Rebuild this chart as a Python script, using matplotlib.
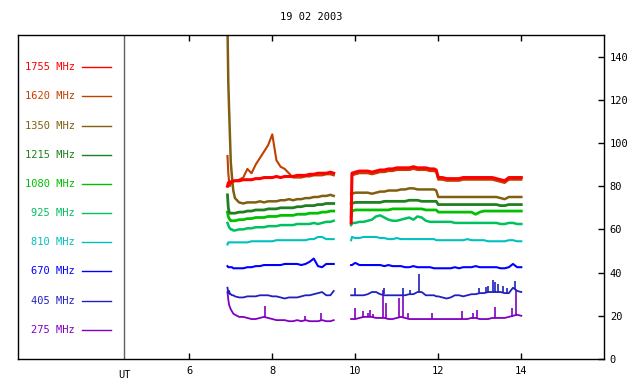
import numpy as np
import matplotlib
matplotlib.use("Agg")
import matplotlib.pyplot as plt

# ---------------- data ----------------
title = "19 02 2003"
freqs = ["1755 MHz", "1620 MHz", "1350 MHz", "1215 MHz", "1080 MHz",
         "925 MHz", "810 MHz", "670 MHz", "405 MHz", "275 MHz"]
colors = ["#ff0000", "#c04000", "#806010", "#208020", "#00c000",
          "#00c060", "#00c0c0", "#0000ff", "#2020c0", "#8000c0"]

xticks = [6, 8, 10, 12, 14]
yticks = [0, 20, 40, 60, 80, 100, 120, 140]

t1 = [6.92, 6.94, 6.96, 6.98, 7.00, 7.03, 7.06, 7.10, 7.20, 7.30, 7.40, 7.50,
      7.60, 7.70, 7.80, 7.90, 8.00, 8.10, 8.20, 8.30, 8.40, 8.50, 8.60, 8.70,
      8.80, 8.90, 9.00, 9.10, 9.20, 9.30, 9.40, 9.48]
t2 = [9.90, 9.92, 10.0, 10.1, 10.2, 10.3, 10.4, 10.5, 10.6, 10.7, 10.8, 10.9,
      11.0, 11.1, 11.2, 11.3, 11.4, 11.5, 11.6, 11.7, 11.8, 11.9, 11.95,
      12.0, 12.1, 12.2, 12.3, 12.4, 12.5, 12.6, 12.7, 12.8, 12.9, 13.0, 13.1,
      13.2, 13.3, 13.4, 13.5, 13.6, 13.7, 13.8, 13.9, 14.0]

v1755_a = [80, 81.5, 82, 81.5, 82, 82, 82.5, 82.5, 82.5, 83, 83, 83, 83.5, 83.5,
           84, 84, 84, 84.5, 84, 84.5, 84.5, 84.5, 85, 85, 85, 85.5, 85.5, 86,
           86, 86, 86.5, 86]
v1755_b = [63, 86, 86.5, 87, 87, 87, 86.5, 87, 87.5, 87.5, 88, 88, 88.5, 88.5,
           88.5, 88.5, 89, 88.5, 88.5, 88.5, 88, 88, 87.5, 84, 84, 83.5, 83.5,
           83.5, 83.5, 84, 84, 84, 84, 84, 84, 84, 84, 83.5, 83, 82.5, 84, 84,
           84, 84]

v1620_a = [94, 86, 82, 80, 81, 82, 82, 82.5, 83, 84, 88, 86, 90, 93, 96, 99,
           104, 92, 89, 88, 86, 84, 84, 84, 84.5, 84.5, 85, 85, 85, 85.5, 85.5,
           85]
v1620_b = [63, 85, 85.5, 86, 86, 86, 85.5, 86, 86.5, 86.5, 87, 87, 87.5, 87.5,
           87.5, 87.5, 88, 87.5, 87.5, 87.5, 87, 87, 86.5, 83, 83, 82.5, 82.5,
           82.5, 82.5, 83, 83, 83, 83, 83, 83, 83, 83, 82.5, 82, 81.5, 83, 83,
           83, 83]

v1350_a = [155, 128, 115, 103, 91, 84, 78, 74.5, 72.5, 72, 72.5, 72.5, 72.5,
           73, 72.5, 73, 73, 73, 73.5, 73.5, 74, 73.5, 74, 74, 74.5, 74.5, 75,
           75, 75.5, 75.5, 76, 75.5]
v1350_b = [76.5, 76.5, 77, 77, 77, 77, 76.5, 77, 77.5, 77.5, 78, 78, 78, 78.5,
           78.5, 79, 79, 78.5, 78.5, 78.5, 78.5, 78.5, 78, 75, 75, 75, 75, 75,
           75, 75, 75, 75, 75, 75, 75, 75, 75, 75, 74.5, 74, 75, 75, 75, 75]

v1215_a = [76, 70, 68, 67.5, 67.5, 67.5, 67.5, 67.5, 68, 68, 68.5, 68.5, 69, 69,
           69, 69.5, 69.5, 69.5, 70, 70, 70, 70, 70.5, 70.5, 71, 71, 71, 71.5,
           71.5, 72, 72, 72]
v1215_b = [72, 72, 72.5, 72.5, 72.5, 72.5, 72.5, 72.5, 72.5, 73, 73, 73, 73, 73,
           73, 73.5, 73.5, 73.5, 73, 73, 73, 73, 73, 71.5, 71.5, 71.5, 71.5,
           71.5, 71.5, 71.5, 71.5, 71.5, 71.5, 71.5, 71.5, 71.5, 71.5, 71.5, 71,
           71, 71.5, 71.5, 71.5, 71.5]

v1080_a = [68, 66, 65, 64.5, 64, 64, 64, 64, 64.5, 64.5, 65, 65, 65.5, 65.5,
           65.5, 66, 66, 66, 66.5, 66.5, 66.5, 66.5, 67, 67, 67, 67.5, 67.5,
           67.5, 68, 68, 68.5, 68.5]
v1080_b = [66, 68.5, 69, 69, 69, 69, 69, 69, 69, 69, 69, 69.5, 69.5, 69.5, 69.5,
           69.5, 69.5, 69.5, 69.5, 69, 69, 69, 69, 68, 68, 68, 68, 68, 68, 68,
           68, 68, 67, 68, 68.5, 68.5, 68.5, 68.5, 68.5, 68.5, 68.5, 68.5, 68.5,
           68.5]

v925_a = [63, 62, 61, 60.5, 60, 60, 59.5, 59.5, 60, 60, 60.5, 60.5, 61, 61, 61,
          61.5, 61.5, 61.5, 62, 62, 62, 62, 62.5, 62.5, 62.5, 62.5, 63, 62.5,
          63, 63.5, 63.5, 64]
v925_b = [62, 63, 63, 63.5, 63.5, 64, 64.5, 66, 66.5, 65.5, 64.5, 64, 64, 64.5,
          65, 65.5, 64.5, 66, 65.5, 64, 63.5, 63.5, 63.5, 63.5, 63.5, 63.5,
          63.5, 63, 63, 63, 63, 63, 63, 63, 63, 63, 63, 63, 62.5, 62.5, 63, 63,
          62.5, 62.5]

v810_a = [53, 54, 54, 54, 54, 54, 54, 54, 54, 54, 54, 54.5, 54.5, 54.5, 54.5,
          54.5, 54.5, 55, 55, 55, 55, 55, 55, 55, 55, 55.5, 55.5, 56.5, 56.5,
          55.5, 55.5, 55.5]
v810_b = [55, 56.5, 56, 56, 56.5, 56.5, 56.5, 56.5, 56, 56, 55.5, 55.5, 56,
          55.5, 55.5, 55.5, 55.5, 55.5, 55.5, 55.5, 55.5, 55.5, 55, 55, 55, 55,
          55, 55, 55, 55, 55.5, 55, 55, 55, 55, 54.5, 54.5, 54.5, 54.5, 54.5,
          55, 55, 54.5, 54.5]

v670_a = [43, 42.5, 42.5, 42.5, 42.5, 42.5, 42, 42, 42, 42, 42.5, 42.5, 43, 43,
          43.5, 43.5, 43.5, 43.5, 43.5, 44, 44, 44, 44, 43.5, 44, 45, 46.5, 43,
          42.5, 44, 44, 44]
v670_b = [43.5, 43.5, 44.5, 43.5, 43.5, 43.5, 43.5, 43.5, 43.5, 43, 43.5, 43,
          43, 43, 42.5, 42.5, 43, 42.5, 42.5, 42.5, 42.5, 42, 42, 42, 42, 42,
          42, 42.5, 42, 42.5, 42.5, 42.5, 43, 42.5, 42.5, 42.5, 42.5, 42.5, 42,
          42, 42.5, 44, 42.5, 42.5]

v405_a = [33, 30.5, 31.5, 30, 30, 29.5, 29.5, 29, 28.5, 28.5, 29, 29, 29, 29.5,
          29.5, 29.5, 29, 29, 28.5, 28, 28.5, 28.5, 28.5, 29, 29.5, 29.5, 30,
          30.5, 31, 29.5, 29.5, 31.5]
v405_b = [29.5, 29.5, 29.5, 29.5, 29.5, 30, 31, 31, 30, 29.5, 29.5, 29.5, 29.5,
          29.5, 29.5, 30, 30, 31, 31, 29.5, 29.5, 29.5, 29, 29, 28.5, 28, 28.5,
          29.5, 29.5, 29, 29.5, 30, 30, 30.5, 30.5, 31, 31, 31, 31, 30.5, 30.5,
          33, 31.5, 31]
spk405_t = [9.99, 10.68, 11.16, 11.31, 11.54, 12.97, 13.15, 13.20, 13.33,
            13.37, 13.45, 13.55, 13.65, 13.85]
spk405_lo = [29.5, 30, 29.5, 30, 31, 30, 30.5, 31, 31, 31, 31, 31, 30.5, 32.5]
spk405_hi = [33, 33, 33, 32, 39.5, 33, 33.5, 34, 36.5, 35.5, 34.5, 34, 33, 36]

v275_a = [31, 27.5, 25, 24, 23, 22, 21, 20.5, 19.5, 19.5, 19, 18.5, 18.5, 19,
          19.5, 19, 18.5, 18, 18, 18, 17.5, 17.5, 18, 17.5, 18, 17.5, 17.5,
          17.5, 18, 17.5, 17.5, 18]
v275_b = [18.5, 18.5, 18.5, 19, 19.5, 19.5, 19.5, 19, 19, 19, 18.5, 18.5, 19,
          19.5, 19, 18.5, 18.5, 18.5, 18.5, 18.5, 18.5, 18.5, 18.5, 18.5, 18.5,
          18.5, 18.5, 18.5, 18.5, 18.5, 18.5, 19, 19, 18.5, 18.5, 18.5, 19, 19,
          19, 19, 19.5, 20, 20.5, 20]
spk275_t = [7.83, 8.80, 9.18, 9.99, 10.19, 10.30, 10.36, 10.43, 10.66, 10.74,
            11.06, 11.16, 11.28, 11.86, 12.56, 12.83, 12.93, 13.37, 13.78, 13.87]
spk275_lo = [19.5, 18, 17.5, 18.5, 19, 19.5, 19.5, 19.5, 19, 19, 19, 19, 19,
             18.5, 18.5, 18.5, 18.5, 19, 19.5, 20]
spk275_hi = [24.5, 20, 21.5, 23.8, 22, 21.5, 22.5, 21, 32, 25.8, 28.2, 29, 21.5,
             21.3, 22, 21.5, 22.5, 24.3, 23.5, 32]

series_a = [v1755_a, v1620_a, v1350_a, v1215_a, v1080_a,
            v925_a, v810_a, v670_a, v405_a, v275_a]
series_b = [v1755_b, v1620_b, v1350_b, v1215_b, v1080_b,
            v925_b, v810_b, v670_b, v405_b, v275_b]
widths = [2.2, 1.5, 1.8, 2.0, 2.0, 1.8, 1.5, 1.5, 1.3, 1.3]

ut_pos = 4.434

# ---------------- figure ----------------
plt.rcParams['font.family'] = ['DejaVu Sans Mono']
plt.rcParams['font.size'] = 7.5

fig = plt.figure(figsize=(6.4, 3.84), dpi=100)
ax = fig.add_axes([18.3 / 640, 1 - 359 / 384, 586 / 640, 324 / 384])
ax.set_xlim(1.88, 16)
ax.set_ylim(0, 150)

# draw lowest frequency first so 1755 MHz ends on top
for i in reversed(range(len(freqs))):
    ax.plot(t1, series_a[i], color=colors[i], lw=widths[i])
    ax.plot(t2, series_b[i], color=colors[i], lw=widths[i])
    if freqs[i] == "275 MHz":
        ax.vlines(spk275_t, spk275_lo, spk275_hi, color=colors[i], lw=1.2)
    if freqs[i] == "405 MHz":
        ax.vlines(spk405_t, spk405_lo, spk405_hi, color=colors[i], lw=1.2)

ax.axvline(ut_pos, color='#606060', lw=1.0)

# key on the left
y0 = 0.9003
dy = 0.09
for i, (lab, c) in enumerate(zip(freqs, colors)):
    y = y0 - i * dy
    ax.text(0.0968, y, lab, color=c, ha='right', va='center',
            transform=ax.transAxes)
    ax.plot([0.1087, 0.1577], [y, y], color=c, lw=1.0,
            transform=ax.transAxes, clip_on=False)

# axes styling
for s in ax.spines.values():
    s.set_linewidth(1.0)
ax.set_xticks(xticks)
ax.set_xticklabels([str(v) for v in xticks])
ax.set_yticks(yticks)
ax.yaxis.tick_right()
ax.tick_params(axis='x', direction='in', length=4, width=1, top=True,
               bottom=True, labeltop=False, pad=5)
ax.tick_params(axis='y', direction='in', length=4, width=1, left=False,
               right=True, labelright=True, labelleft=False, pad=4)
ax.text(ut_pos, -0.033, "UT", ha='center', va='top',
        transform=ax.get_xaxis_transform())

ax.text(0.5, 1.0546, title, ha='center', va='center', transform=ax.transAxes)

fig.savefig("out.png", dpi=100)
